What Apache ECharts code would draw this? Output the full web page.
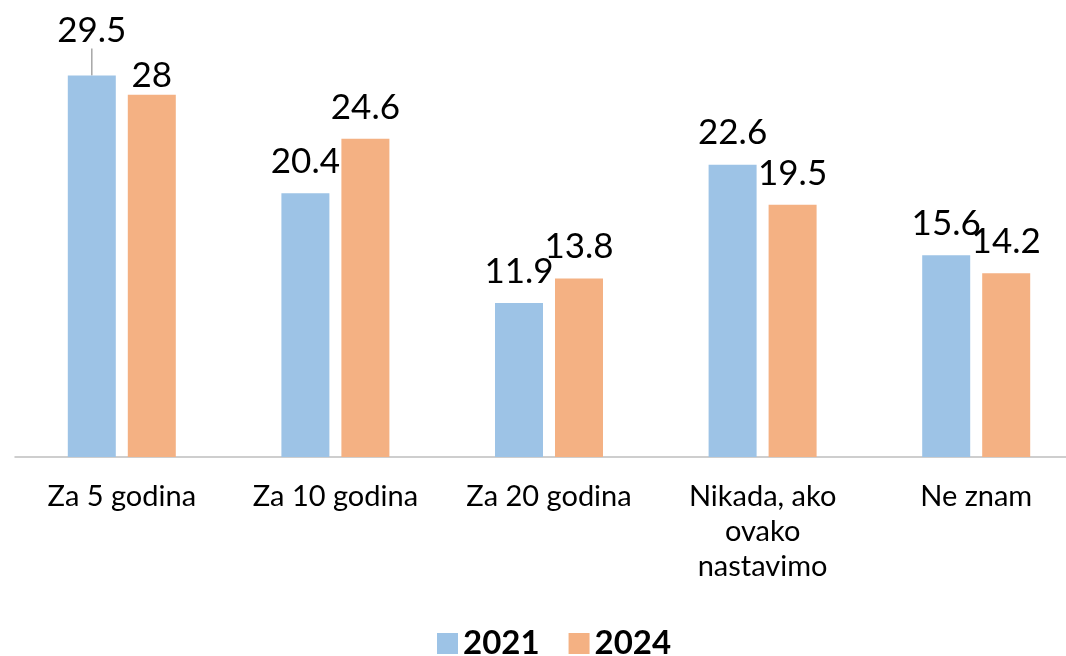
<!DOCTYPE html>
<html>
<head>
<meta charset="utf-8">
<style>
  html, body { margin: 0; padding: 0; background: #fff; }
  #main { width: 1066px; height: 656px; }
</style>
<script src="https://cdn.jsdelivr.net/npm/echarts@6/dist/echarts.min.js"></script>
</head>
<body>
<div id="main"></div>
<script>
const categories = ['Za 5 godina', 'Za 10 godina', 'Za 20 godina', 'Nikada, ako\novako\nnastavimo', 'Ne znam'];
const values2021 = [29.5, 20.4, 11.9, 22.6, 15.6];
const values2024 = [28, 24.6, 13.8, 19.5, 14.2];

const font = 'Lato';
const dom = document.getElementById('main');
const myChart = echarts.init(dom);

// labels that were dragged by hand in the original
const labelShift = { '0-0': -13, '1-0': 12 };

function barSeries(name, idx, data, color) {
  return {
    name: name,
    type: 'bar',
    data: data.map((v, i) =>
      idx === 0 && i === 0 ? { value: v, labelLine: { show: true } } : v,
    ),
    barWidth: 48,
    barGap: '25%',
    itemStyle: { color: color },
    label: {
      show: true,
      position: 'top',
      distance: 14,
      color: '#000',
      fontFamily: font,
      fontSize: 35,
    },
    labelLine: { show: false, lineStyle: { color: '#a6a6a6', width: 1.5 } },
    labelLayout: (params) => {
      const dy = labelShift[params.seriesIndex + '-' + params.dataIndex];
      return dy ? { dy: dy } : {};
    },
  };
}

myChart.setOption({
  animation: false,
  grid: { left: 15, width: 1068, top: 69, bottom: 199, outerBoundsMode: 'none', containLabel: false },
  legend: {
    bottom: -4,
    left: 437,
    padding: 0,
    itemWidth: 21,
    itemHeight: 21,
    itemGap: 29,
    icon: 'rect',
    textStyle: { fontFamily: font, fontSize: 33, fontWeight: 'bold', color: '#000', padding: [0, 0, 0, 0] },
    data: ['2021', '2024'],
  },
  xAxis: {
    type: 'category',
    data: categories,
    axisLine: { lineStyle: { color: '#bfbfbf', width: 1.5 } },
    axisTick: { show: false },
    axisLabel: {
      color: '#000',
      fontFamily: font,
      fontSize: 29,
      lineHeight: 35,
      margin: 22,
      interval: 0,
    },
  },
  yAxis: {
    type: 'value',
    min: 0,
    max: 30,
    show: false,
  },
  series: [
    barSeries('2021', 0, values2021, '#9dc3e6'),
    barSeries('2024', 1, values2024, '#f4b183'),
  ],
});
</script>
</body>
</html>
